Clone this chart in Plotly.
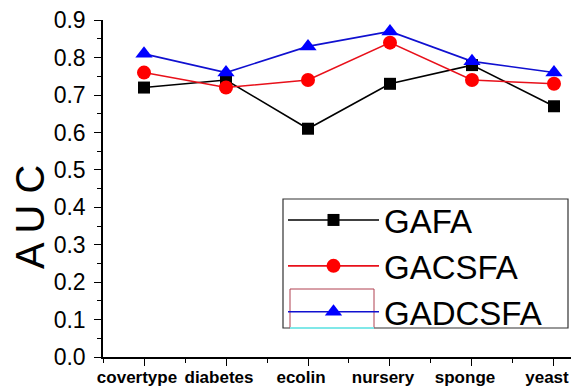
import plotly.graph_objects as go

categories = ["covertype", "diabetes", "ecolin", "nursery", "sponge", "yeast"]
gafa = [0.72, 0.74, 0.61, 0.73, 0.78, 0.67]
gacsfa = [0.76, 0.72, 0.74, 0.84, 0.74, 0.73]
gadcsfa = [0.81, 0.76, 0.83, 0.87, 0.79, 0.76]
y_ticks = [0.0, 0.1, 0.2, 0.3, 0.4, 0.5, 0.6, 0.7, 0.8, 0.9]

x = list(range(len(categories)))
# page body has an 8px default margin: the figure starts at (8, 8) in the window
OFF = 8
WIN_W, WIN_H = 579, 390
W, H = WIN_W - OFF, WIN_H - OFF
L, R, T, B = 103 - OFF, 0, 20 - OFF, 33
pw, ph = W - L - R, H - T - B

def px(xp):  # window pixel x -> paper
    return (xp - OFF - L) / pw

def py(yp):  # window pixel y -> paper
    return (H - B - (yp - OFF)) / ph

fig = go.Figure()
fig.add_trace(go.Scatter(x=x, y=gafa, name="GAFA", mode="lines+markers",
                         line=dict(color="black", width=1.6),
                         marker=dict(symbol="square", size=12, color="black")))
fig.add_trace(go.Scatter(x=x, y=gacsfa, name="GACSFA", mode="lines+markers",
                         line=dict(color="#e8101a", width=1.6),
                         marker=dict(symbol="circle", size=14, color="#ff0000")))
fig.add_trace(go.Scatter(x=x, y=gadcsfa, name="GADCSFA", mode="lines+markers",
                         line=dict(color="#1010d0", width=1.6),
                         marker=dict(symbol="triangle-up", size=15, color="#0000ff")))

fig.update_layout(
    width=W, height=H,
    margin=dict(l=L, r=R, t=T, b=B, autoexpand=False),
    paper_bgcolor="white", plot_bgcolor="white",
    font=dict(family="Arial, Liberation Sans, sans-serif", color="black"),
    legend=dict(x=px(283), y=py(192), xanchor="left", yanchor="top",
                borderwidth=0, bgcolor="rgba(0,0,0,0)",
                font=dict(size=33, color="black"), itemwidth=91,
                tracegroupgap=0),
    showlegend=True,
)
fig.update_xaxes(
    range=[-0.5, 5.305], tickvals=x, ticktext=categories, automargin=False,
    showgrid=False, zeroline=False, showline=True, linecolor="black", linewidth=1.5,
    ticks="outside", ticklen=7, tickwidth=1.2, tickcolor="black",
    minor=dict(tickvals=[i - 0.5 for i in x], ticks="outside", ticklen=4, tickcolor="black", tickwidth=1),
    tickfont=dict(size=17, family="Arial, Liberation Sans, sans-serif", weight="bold"),
    ticklabelshift=-7, ticklabelstandoff=-3,
)
fig.update_yaxes(
    range=[0, 0.9005], tickvals=y_ticks, ticktext=[f"{v:.1f}" for v in y_ticks], automargin=False,
    showgrid=False, zeroline=False, showline=True, linecolor="black", linewidth=1.5,
    ticks="outside", ticklen=7, tickwidth=1.2, tickcolor="black",
    minor=dict(dtick=0.05, tick0=0, ticks="outside", ticklen=4, tickcolor="black", tickwidth=1),
    tickfont=dict(size=23), ticklabelstandoff=4,
    ticklabeloverflow="allow",
)
fig.add_annotation(text="A U C", textangle=-90, xref="paper", yref="paper",
                   x=px(30), y=py(217), showarrow=False, font=dict(size=40, color="black"),
                   xanchor="center", yanchor="middle")
# legend frame
fig.add_shape(type="rect", xref="paper", yref="paper",
              x0=px(283), x1=px(568), y0=py(328), y1=py(199),
              line=dict(color="#333333", width=1.2), layer="above")
fig.add_shape(type="rect", xref="paper", yref="paper",
              x0=px(290), x1=px(374), y0=py(328), y1=py(289),
              line=dict(color="#b04050", width=1))
fig.add_shape(type="line", xref="paper", yref="paper",
              x0=px(290), x1=px(374), y0=py(328), y1=py(328),
              line=dict(color="#80e8e8", width=2))
fig.write_html("out.html")
